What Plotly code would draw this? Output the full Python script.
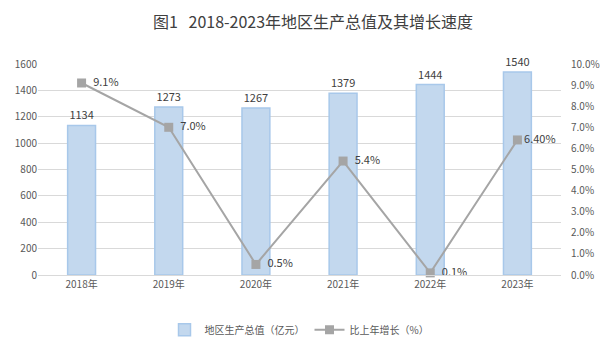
import plotly.graph_objects as go

years = ["2018年", "2019年", "2020年", "2021年", "2022年", "2023年"]
gdp = [1134, 1273, 1267, 1379, 1444, 1540]
growth = [9.1, 7.0, 0.5, 5.4, 0.1, 6.4]
growth_labels = ["  9.1%", "  7.0%", "  0.5%", "  5.4%", "  0.1%", "6.40%"]

font_cjk = "Noto Sans CJK SC, Noto Sans, sans-serif"
tick_color = "#595959"

fig = go.Figure()
fig.add_trace(go.Bar(
    x=years, y=gdp, name="地区生产总值（亿元）",
    marker=dict(color="#c3d8ee", line=dict(color="#a8c8ea", width=1.5)),
    width=0.32,
    text=[str(v) for v in gdp], textposition="outside",
    textfont=dict(size=11, color="#404040"),
    cliponaxis=False,
))
fig.add_trace(go.Scatter(
    x=years, y=growth, name="比上年增长（%）", yaxis="y2",
    mode="lines+markers+text",
    line=dict(color="#a5a5a5", width=2),
    marker=dict(symbol="square", size=9, color="#a5a5a5"),
    text=growth_labels, textposition="middle right",
    textfont=dict(size=11, color="#404040"),
    cliponaxis=False,
))

fig.update_layout(
    width=610, height=355,
    margin=dict(l=30, r=57, t=56, b=88),
    paper_bgcolor="white", plot_bgcolor="white",
    font=dict(family=font_cjk, color=tick_color, size=10),
    title=dict(text="图1   2018-2023年地区生产总值及其增长速度",
               x=0.5, xanchor="center", y=0.96, yanchor="middle",
               font=dict(size=16, color="#404040", family=font_cjk)),
    xaxis=dict(showgrid=False, showline=True, linecolor="#d9d9d9", automargin=False,
               tickfont=dict(size=10, color=tick_color), ticks=""),
    yaxis=dict(range=[0, 1600], dtick=200, showgrid=True, gridcolor="#d9d9d9",
               automargin=False, zeroline=False, tickfont=dict(size=10, color=tick_color)),
    yaxis2=dict(range=[0, 10], dtick=1, overlaying="y", side="right", automargin=False,
                showgrid=False, zeroline=False, ticksuffix="%", tickformat=".1f",
                ticklabelstandoff=9,
                tickfont=dict(size=10, color=tick_color)),
    legend=dict(orientation="h", x=0.5, xanchor="center", y=-0.26, yanchor="middle",
                font=dict(size=10, color=tick_color)),
    showlegend=True,
    bargap=0.6,
)

fig.write_html("out.html")
